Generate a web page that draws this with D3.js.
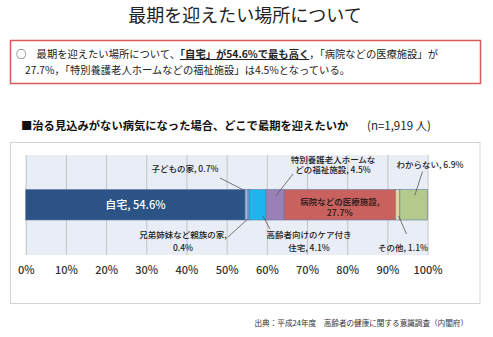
<!DOCTYPE html>
<html><head><meta charset="utf-8">
<script src="https://cdn.jsdelivr.net/npm/d3@7/dist/d3.min.js"></script>
<style>
html,body{margin:0;padding:0;background:#fff;}
svg{display:block;font-family:"Noto Sans CJK JP","Noto Sans",sans-serif;}
</style></head>
<body>
<svg id="chart" width="493" height="337"></svg>
<script>
// ---- data ----
const categories = ["自宅","子どもの家","兄弟姉妹など親族の家","高齢者向けのケア付き住宅","特別養護老人ホームなどの福祉施設","病院などの医療施設","その他","わからない"];
const values = [54.6, 0.7, 0.4, 4.1, 4.5, 27.7, 1.1, 6.9];
const tickValues = [0,10,20,30,40,50,60,70,80,90,100];
const labelLines = [
  ["自宅, 54.6%"],
  ["子どもの家, 0.7%"],
  ["兄弟姉妹など親族の家,", "0.4%"],
  ["高齢者向けのケア付き", "住宅, 4.1%"],
  ["特別養護老人ホームな", "どの福祉施設, 4.5%"],
  ["病院などの医療施設,", "27.7%"],
  ["その他, 1.1%"],
  ["わからない, 6.9%"]
];

// ---- styles / layout ----
const colors = ["#2b5386","#9dbbe2","#6a9ad6","#1cb5ec","#9b80b8","#c9625f","#ddd6a8","#b4ca8c"];
const svg = d3.select("#chart");
const plot = {left:25.7, right:427.6, top:155, bottom:255};
const barY = 189.5, barH = 30.5;

// title
svg.append("text").attr("x",245).attr("y",22).attr("text-anchor","middle")
  .attr("font-size",18).attr("fill","#222").text("最期を迎えたい場所について");

// red summary box
svg.append("rect").attr("x",10.5).attr("y",40.5).attr("width",470).attr("height",43)
  .attr("fill","#fff").attr("stroke","#d65c5a").attr("stroke-width",1.5);
const t1 = svg.append("text").attr("x",16).attr("y",58).attr("font-size",10.3).attr("fill","#222");
t1.append("tspan").text("○　最期を迎えたい場所について、");
t1.append("tspan").attr("font-weight","bold").attr("text-decoration","underline").text("「自宅」が54.6%で最も高く");
t1.append("tspan").text("，「病院などの医療施設」が");
svg.append("text").attr("x",25).attr("y",74).attr("font-size",10.3).attr("fill","#222")
  .text("27.7%，「特別養護老人ホームなどの福祉施設」は4.5%となっている。");

// subtitle
svg.append("text").attr("x",21).attr("y",129.5).attr("font-size",11.3).attr("font-weight","bold").attr("fill","#111")
  .text("■治る見込みがない病気になった場合、どこで最期を迎えたいか");
svg.append("text").attr("x",367).attr("y",129.5).attr("font-size",11.5).attr("fill","#222")
  .text("(n=1,919 人)");

// chart frame
svg.append("rect").attr("x",10.5).attr("y",142.5).attr("width",469.5).attr("height",161)
  .attr("fill","#fff").attr("stroke","#d4d4d4").attr("stroke-width",1);

const x = d3.scaleLinear().domain([0,100]).range([plot.left, plot.right]);

// plot background
svg.append("rect").attr("x",plot.left).attr("y",plot.top)
  .attr("width",plot.right-plot.left).attr("height",plot.bottom-plot.top).attr("fill","#e9edf5");

// gridlines
const grid = svg.append("g").attr("transform",`translate(0,${plot.bottom})`)
  .call(d3.axisBottom(x).tickValues(tickValues).tickSize(-(plot.bottom-plot.top)).tickFormat(""));
grid.select(".domain").remove();
grid.selectAll("line").attr("stroke","#c4c4c8").attr("stroke-width",1);

// axis labels
const ax = svg.append("g").attr("transform",`translate(0,${plot.bottom+8})`)
  .call(d3.axisBottom(x).tickValues(tickValues).tickSize(0).tickFormat(d=>d+"%"));
ax.select(".domain").remove();
ax.selectAll("text").attr("font-size",11).attr("fill","#333").attr("font-weight",500)
  .attr("font-family","'Noto Sans CJK JP','Noto Sans',sans-serif");

// stacked segments
let cum = 0;
const segs = values.map((v,i)=>{ const s={i,start:cum,end:cum+v,v}; cum+=v; return s; });
svg.append("g").selectAll("rect").data(segs).join("rect")
  .attr("x",d=>x(d.start)).attr("y",barY)
  .attr("width",d=>x(d.end)-x(d.start)).attr("height",barH)
  .attr("fill",d=>colors[d.i]).attr("stroke","#5f7aa6").attr("stroke-width",0.6);

// label layout
const lay = [
  {tx:null, ty:209, lh:0, size:11, fill:"#fff", inside:true},
  {tx:185, ty:172, lh:0, leader:[220,178], top:true, dx:-2},
  {tx:183, ty:238, lh:12.5, leader:[228,237], top:false, dx:-1},
  {tx:309, ty:237.5, lh:13.5, leader:[270,229], top:false, dx:5},
  {tx:333, ty:162.5, lh:10.5, leader:[293,174], top:true, dx:1},
  {tx:null, ty:204.5, lh:11, fill:"#3a2222", inside:true},
  {tx:403, ty:250.5, lh:0, leader:[406.5,234], top:false, dx:1},
  {tx:430, ty:167.5, lh:0, leader:[422.5,171.5], top:true, dx:1}
];

const lbl = svg.append("g");
segs.forEach((s,k)=>{
  const L = lay[k];
  const cx = L.tx==null ? x((s.start+s.end)/2) : L.tx;
  const t = lbl.append("text").attr("text-anchor","middle")
    .attr("font-size",L.size||8.5).attr("fill",L.fill||"#222")
    .attr("font-weight", L.inside && !L.size ? "bold" : 500);
  labelLines[k].forEach((line,j)=>{
    t.append("tspan").attr("x",cx).attr("y",L.ty + j*L.lh).text(line);
  });
  if(L.leader){
    const bx = x((s.start+s.end)/2) + L.dx;
    const by = L.top ? barY + (k===1?1:6) : barY+barH - (k===2?1:4);
    lbl.append("line").attr("x1",L.leader[0]).attr("y1",L.leader[1])
      .attr("x2",bx).attr("y2",by).attr("stroke","#555").attr("stroke-width",0.8);
  }
});

// source
svg.append("text").attr("x",468).attr("y",326).attr("text-anchor","end")
  .attr("font-size",7.6).attr("fill","#333")
  .text("出典：平成24年度　高齢者の健康に関する意識調査（内閣府）");
</script>
</body></html>
